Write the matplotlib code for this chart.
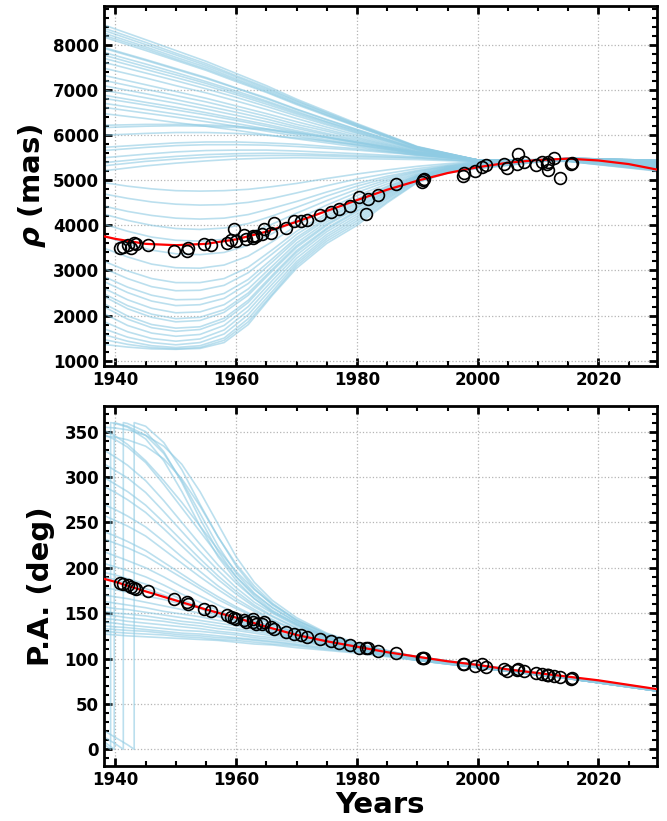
import numpy as np
import matplotlib.pyplot as plt
from matplotlib.ticker import MultipleLocator

plt.rcParams['font.family'] = ['DejaVu Sans']
plt.rcParams['font.weight'] = 'bold'
plt.rcParams['mathtext.fontset'] = 'custom'
plt.rcParams['mathtext.rm'] = 'DejaVu Sans:bold'
plt.rcParams['mathtext.it'] = 'DejaVu Sans:italic:bold'
plt.rcParams['mathtext.bf'] = 'DejaVu Sans:bold'

# observations
obs_years = [1940.8, 1941.3, 1942.0, 1942.5, 1943.0, 1943.4, 1945.4, 1949.7, 1951.9, 1952.0,
             1954.6, 1955.9, 1958.5, 1959.1, 1959.6, 1959.9, 1961.3, 1961.6, 1962.7, 1962.8,
             1963.2, 1964.3, 1964.6, 1965.7, 1966.3, 1968.2, 1969.6, 1970.7, 1971.8, 1973.8,
             1975.7, 1977.0, 1978.8, 1980.3, 1981.5, 1981.8, 1983.5, 1986.4, 1990.7, 1991.0,
             1991.1, 1997.6, 1997.8, 1999.5, 2000.7, 2001.4, 2004.3, 2004.8, 2006.5, 2006.6,
             2007.6, 2009.7, 2010.6, 2011.4, 2011.6, 2011.7, 2012.6, 2013.7, 2015.5, 2015.6]
obs_rho = [3500, 3520, 3560, 3500, 3600, 3580, 3565, 3430, 3430, 3505,
           3580, 3565, 3615, 3680, 3930, 3660, 3790, 3690, 3730, 3770,
           3770, 3800, 3910, 3840, 4050, 3950, 4100, 4100, 4120, 4230,
           4300, 4360, 4435, 4620, 4250, 4590, 4680, 4920, 4960, 5000,
           5030, 5090, 5170, 5200, 5290, 5340, 5360, 5265, 5360, 5590,
           5400, 5350, 5400, 5360, 5400, 5220, 5490, 5050, 5370, 5390]
obs_pa = [183.0, 181.6, 180.5, 178.6, 178.0, 176.9, 173.9, 165.9, 162.1, 160.4,
          154.9, 152.2, 147.5, 145.6, 145.0, 143.8, 142.7, 140.1, 140.1, 143.8,
          138.3, 137.6, 140.1, 134.6, 132.8, 129.1, 127.3, 125.5, 123.6, 121.1,
          119.2, 117.0, 114.5, 111.9, 111.9, 111.9, 108.2, 106.0, 100.5, 100.5,
          100.5, 94.3, 94.3, 91.7, 94.3, 90.6, 88.0, 86.2, 86.9, 88.8,
          86.2, 84.0, 82.5, 81.4, 81.4, 81.4, 80.7, 79.6, 77.8, 78.5]

# best fit
fit_years = [1938, 1940, 1945, 1950, 1955, 1960, 1965, 1970, 1975, 1980,
             1985, 1990, 1995, 2000, 2005, 2010, 2015, 2020, 2025, 2030]
fit_rho = [3760, 3700, 3590, 3560, 3590, 3690, 3860, 4080, 4320, 4560,
           4790, 4990, 5160, 5290, 5390, 5450, 5480, 5440, 5360, 5230]
fit_pa = [188, 184.5, 174, 164, 154, 145, 135, 126, 119, 113,
          107, 102, 97, 93, 88, 84, 80, 76, 71, 66]

# sampled orbits, separation (wide orbits, starting high)
rho_hi_years = [1938, 1945, 1950, 1955, 1960, 1965, 1970, 1975, 1980, 1990, 2000, 2015, 2030]
rho_hi_orbits = [
    [8450, 8120, 7880, 7640, 7370, 7100, 6800, 6530, 6260, 5750, 5450, 5420, 5200],
    [8380, 8060, 7820, 7590, 7320, 7060, 6770, 6500, 6240, 5740, 5450, 5420, 5210],
    [8330, 8010, 7780, 7550, 7290, 7030, 6750, 6490, 6230, 5740, 5450, 5430, 5230],
    [8270, 7960, 7730, 7510, 7250, 7000, 6720, 6460, 6210, 5730, 5450, 5420, 5220],
    [8220, 7920, 7690, 7470, 7220, 6970, 6700, 6450, 6200, 5730, 5450, 5430, 5240],
    [8180, 7880, 7660, 7440, 7190, 6950, 6680, 6430, 6190, 5720, 5450, 5430, 5250],
    [7950, 7680, 7480, 7280, 7050, 6830, 6580, 6350, 6130, 5700, 5450, 5430, 5260],
    [7930, 7660, 7460, 7260, 7040, 6810, 6570, 6340, 6120, 5700, 5450, 5440, 5270],
    [7840, 7580, 7390, 7190, 6980, 6760, 6530, 6300, 6100, 5690, 5450, 5430, 5260],
    [7780, 7520, 7340, 7150, 6940, 6730, 6500, 6290, 6080, 5680, 5450, 5440, 5280],
    [7710, 7460, 7280, 7100, 6900, 6690, 6470, 6260, 6060, 5680, 5450, 5440, 5290],
    [7620, 7380, 7210, 7030, 6840, 6640, 6430, 6230, 6040, 5670, 5450, 5430, 5270],
    [7490, 7270, 7100, 6940, 6760, 6570, 6370, 6180, 6000, 5650, 5450, 5440, 5300],
    [7330, 7120, 6970, 6820, 6650, 6480, 6300, 6130, 5960, 5640, 5450, 5440, 5310],
    [7220, 7020, 6880, 6740, 6580, 6420, 6240, 6090, 5930, 5630, 5450, 5450, 5320],
    [7100, 6920, 6790, 6650, 6510, 6360, 6190, 6040, 5900, 5620, 5450, 5440, 5300],
    [7000, 6830, 6710, 6580, 6440, 6300, 6150, 6010, 5870, 5610, 5450, 5450, 5330],
    [6890, 6730, 6620, 6500, 6370, 6240, 6100, 5970, 5840, 5590, 5450, 5450, 5340],
    [6820, 6670, 6560, 6450, 6330, 6200, 6070, 5940, 5820, 5590, 5450, 5450, 5320],
    [6710, 6570, 6470, 6370, 6260, 6140, 6020, 5900, 5790, 5580, 5450, 5460, 5350],
    [6620, 6490, 6400, 6300, 6200, 6090, 5980, 5870, 5770, 5570, 5450, 5450, 5340],
    [6480, 6370, 6280, 6200, 6110, 6010, 5920, 5830, 5740, 5550, 5450, 5460, 5360],
    [6220, 6240, 6240, 6230, 6200, 6140, 6060, 5960, 5850, 5620, 5450, 5450, 5350],
    [6170, 6200, 6210, 6200, 6170, 6120, 6040, 5950, 5840, 5620, 5450, 5460, 5370],
    [6000, 6040, 6060, 6060, 6040, 6000, 5940, 5870, 5790, 5600, 5440, 5450, 5360],
    [5730, 5790, 5830, 5850, 5850, 5830, 5800, 5750, 5700, 5570, 5440, 5460, 5380],
    [5660, 5730, 5770, 5790, 5790, 5780, 5750, 5710, 5670, 5560, 5440, 5460, 5370],
    [5500, 5580, 5630, 5660, 5670, 5670, 5650, 5620, 5590, 5520, 5430, 5470, 5390],
    [5390, 5480, 5530, 5570, 5590, 5600, 5590, 5570, 5550, 5500, 5420, 5470, 5400],
    [5320, 5420, 5470, 5510, 5540, 5550, 5550, 5540, 5520, 5490, 5420, 5480, 5410],
    [5210, 5320, 5380, 5430, 5470, 5490, 5500, 5490, 5480, 5460, 5410, 5480, 5420],
]

# sampled orbits, separation (orbits starting low)
rho_lo_years = [1938, 1942, 1946, 1950, 1954, 1958, 1962, 1966, 1970, 1975, 1980,
                1985, 1990, 1995, 2000, 2015, 2030]
rho_lo_orbits = [
    [4950, 4870, 4810, 4770, 4760, 4770, 4800, 4860, 4930, 5040, 5140, 5230, 5310, 5370, 5420, 5460, 5380],
    [4700, 4600, 4520, 4470, 4450, 4460, 4510, 4600, 4720, 4880, 5030, 5150, 5260, 5340, 5410, 5460, 5390],
    [4430, 4310, 4220, 4160, 4140, 4160, 4240, 4380, 4530, 4740, 4930, 5090, 5220, 5320, 5400, 5470, 5400],
    [4250, 4110, 4000, 3930, 3910, 3940, 4040, 4210, 4400, 4650, 4870, 5050, 5200, 5310, 5390, 5470, 5410],
    [4030, 3870, 3740, 3670, 3650, 3690, 3820, 4030, 4270, 4550, 4800, 5010, 5180, 5300, 5380, 5470, 5420],
    [3770, 3590, 3450, 3370, 3350, 3400, 3560, 3820, 4130, 4450, 4730, 4970, 5150, 5290, 5370, 5480, 5420],
    [3500, 3300, 3140, 3060, 3050, 3120, 3320, 3640, 4000, 4360, 4660, 4920, 5130, 5280, 5360, 5480, 5430],
    [3210, 2990, 2820, 2730, 2730, 2820, 3070, 3460, 3870, 4270, 4590, 4870, 5110, 5270, 5350, 5480, 5430],
    [3050, 2820, 2640, 2550, 2560, 2670, 2950, 3370, 3800, 4220, 4550, 4850, 5100, 5260, 5340, 5480, 5430],
    [2870, 2630, 2450, 2350, 2360, 2490, 2800, 3260, 3730, 4170, 4510, 4820, 5090, 5250, 5340, 5480, 5440],
    [2760, 2510, 2320, 2220, 2240, 2380, 2710, 3190, 3680, 4130, 4480, 4800, 5080, 5250, 5330, 5480, 5440],
    [2610, 2350, 2160, 2060, 2080, 2240, 2590, 3100, 3610, 4080, 4440, 4770, 5070, 5240, 5330, 5490, 5440],
    [2490, 2220, 2030, 1930, 1960, 2130, 2500, 3030, 3550, 4030, 4400, 4750, 5060, 5240, 5320, 5490, 5440],
    [2430, 2150, 1960, 1860, 1890, 2070, 2450, 2990, 3510, 4000, 4380, 4740, 5050, 5230, 5320, 5490, 5440],
    [2270, 1990, 1800, 1720, 1750, 1940, 2340, 2900, 3440, 3940, 4330, 4710, 5040, 5230, 5310, 5490, 5440],
    [2200, 1920, 1730, 1650, 1690, 1880, 2290, 2860, 3400, 3910, 4300, 4690, 5030, 5220, 5300, 5490, 5440],
    [2050, 1780, 1610, 1540, 1580, 1780, 2200, 2780, 3340, 3860, 4250, 4660, 5020, 5210, 5300, 5490, 5440],
    [1870, 1640, 1490, 1430, 1480, 1680, 2110, 2700, 3270, 3800, 4200, 4630, 5010, 5200, 5290, 5490, 5430],
    [1710, 1520, 1400, 1350, 1400, 1590, 2020, 2620, 3200, 3750, 4150, 4600, 5000, 5190, 5280, 5490, 5430],
    [1580, 1430, 1330, 1290, 1330, 1500, 1930, 2540, 3150, 3700, 4100, 4570, 4980, 5180, 5270, 5490, 5430],
    [1470, 1360, 1290, 1260, 1290, 1450, 1860, 2480, 3100, 3650, 4050, 4530, 4960, 5170, 5260, 5480, 5420],
    [1360, 1300, 1260, 1250, 1270, 1400, 1800, 2450, 3050, 3600, 4000, 4500, 4950, 5160, 5260, 5480, 5420],
]

# sampled orbits, position angle
pa_years = [1938, 1940, 1942, 1945, 1948, 1951, 1954, 1957, 1960, 1963, 1966,
            1970, 1975, 1980, 1990, 2000, 2015, 2030]
pa_orbits = [
    [127, 126, 125, 124, 123, 122, 121, 120, 118, 116, 115, 112, 109, 106, 98, 90, 78, 64],
    [130, 129, 128, 127, 126, 124, 123, 121, 120, 118, 116, 114, 110, 107, 99, 90, 78, 64],
    [133, 132, 131, 130, 128, 126, 125, 123, 122, 120, 118, 115, 111, 108, 99, 91, 78, 64],
    [136, 135, 134, 132, 130, 128, 127, 125, 123, 121, 119, 116, 112, 108, 99, 91, 79, 65],
    [140, 139, 137, 135, 133, 131, 130, 128, 126, 123, 121, 118, 114, 109, 100, 91, 79, 65],
    [144, 143, 141, 139, 137, 135, 133, 130, 128, 125, 123, 120, 115, 110, 100, 92, 79, 65],
    [148, 147, 145, 143, 141, 138, 136, 133, 131, 128, 125, 121, 116, 111, 101, 92, 79, 65],
    [152, 150, 149, 147, 144, 141, 139, 136, 133, 130, 127, 123, 117, 112, 101, 92, 79, 65],
    [157, 155, 154, 151, 148, 145, 142, 139, 136, 132, 129, 124, 118, 112, 101, 92, 79, 65],
    [163, 161, 159, 156, 152, 149, 146, 142, 139, 135, 131, 126, 119, 113, 102, 93, 79, 65],
    [170, 168, 166, 162, 158, 154, 150, 146, 142, 138, 133, 128, 120, 114, 102, 93, 80, 65],
    [178, 176, 173, 169, 165, 160, 156, 151, 146, 141, 136, 130, 122, 115, 102, 93, 80, 66],
    [352, 345, 336, 318, 296, 272, 246, 220, 196, 176, 160, 143, 127, 116, 101, 92, 79, 65],
    [347, 341, 333, 316, 292, 266, 240, 214, 190, 171, 156, 140, 125, 115, 101, 92, 79, 65],
    [330, 322, 313, 296, 274, 250, 226, 203, 183, 166, 152, 138, 124, 114, 100, 91, 78, 65],
    [315, 307, 299, 283, 262, 240, 218, 197, 178, 162, 150, 136, 123, 113, 100, 91, 78, 65],
    [300, 292, 284, 269, 250, 230, 210, 191, 174, 159, 147, 134, 122, 113, 100, 91, 78, 65],
    [290, 283, 275, 261, 243, 224, 205, 187, 171, 157, 146, 133, 121, 112, 99, 91, 78, 65],
    [270, 264, 257, 245, 229, 212, 196, 180, 166, 154, 143, 131, 120, 112, 99, 91, 78, 64],
    [258, 252, 246, 235, 220, 205, 190, 176, 163, 152, 142, 130, 119, 111, 99, 91, 78, 64],
    [240, 235, 229, 219, 206, 193, 180, 168, 157, 147, 138, 128, 118, 111, 99, 90, 78, 64],
    [232, 227, 222, 213, 201, 189, 177, 165, 155, 146, 137, 127, 118, 110, 99, 90, 78, 64],
    [218, 213, 208, 200, 190, 179, 169, 159, 150, 142, 134, 125, 117, 110, 98, 90, 78, 64],
    [205, 201, 197, 190, 181, 171, 162, 153, 145, 138, 131, 123, 115, 109, 98, 90, 78, 64],
    [195, 192, 188, 182, 174, 165, 157, 149, 142, 135, 129, 122, 115, 109, 98, 90, 78, 64],
    [190, 187, 183, 177, 170, 162, 155, 147, 140, 134, 128, 121, 114, 108, 98, 90, 78, 64],
    [355, 354, 352, 346, 334, 314, 284, 248, 212, 184, 164, 145, 128, 117, 101, 92, 79, 65],
    [345, 344, 341, 334, 320, 298, 268, 234, 202, 177, 159, 142, 127, 116, 101, 92, 79, 65],
]

# orbits that pass through 360 -> 0 deg
wrap_years = [
    [1938, 1940, 1942, 1943.1, 1943.1, 1945, 1948, 1951, 1954, 1957, 1960, 1963, 1966, 1970, 1975, 1980, 1990, 2000, 2015, 2030],
    [1938, 1940, 1941.3, 1941.3, 1942, 1945, 1948, 1951, 1954, 1957, 1960, 1963, 1966, 1970, 1975, 1980, 1990, 2000, 2015, 2030],
    [1938, 1939.2, 1939.2, 1940, 1942, 1945, 1948, 1951, 1954, 1957, 1960, 1963, 1966, 1970, 1975, 1980, 1990, 2000, 2015, 2030],
    [1938, 1939.8, 1939.8, 1942, 1945, 1948, 1951, 1954, 1957, 1960, 1963, 1966, 1970, 1975, 1980, 1990, 2000, 2015, 2030],
]
wrap_pa = [
    [21, 13, 5, 0, 360, 356, 338, 308, 270, 234, 204, 180, 161, 142, 126, 115, 101, 92, 79, 65],
    [14, 6, 0, 360, 359, 350, 328, 294, 254, 218, 190, 169, 153, 138, 124, 114, 101, 92, 79, 65],
    [6, 0, 360, 359, 355, 342, 318, 284, 246, 212, 186, 166, 151, 137, 123, 114, 101, 92, 79, 65],
    [9, 0, 360, 356, 346, 326, 296, 260, 224, 194, 172, 156, 140, 124, 114, 101, 92, 79, 65],
]

orbit_color = '#8fcbe3'

fig = plt.figure(figsize=(6.67, 8.21), dpi=100)
ax1 = fig.add_axes([0.1559, 0.5542, 0.8291, 0.4385])
ax2 = fig.add_axes([0.1559, 0.0670, 0.8291, 0.4385])

for orb in rho_hi_orbits:
    ax1.plot(rho_hi_years, orb, color=orbit_color, lw=1.2, alpha=0.6, zorder=2)
for orb in rho_lo_orbits:
    ax1.plot(rho_lo_years, orb, color=orbit_color, lw=1.2, alpha=0.6, zorder=2)
ax1.plot(fit_years, fit_rho, color='red', lw=1.6, zorder=3)
ax1.plot(obs_years, obs_rho, 'o', mfc='none', mec='black', ms=8.5, mew=1.2, zorder=4)

for orb in pa_orbits:
    ax2.plot(pa_years, orb, color=orbit_color, lw=1.2, alpha=0.6, zorder=2)
for yrs, orb in zip(wrap_years, wrap_pa):
    ax2.plot(yrs, orb, color=orbit_color, lw=1.2, alpha=0.6, zorder=2)
ax2.plot(fit_years, fit_pa, color='red', lw=1.6, zorder=3)
ax2.plot(obs_years, obs_pa, 'o', mfc='none', mec='black', ms=8.5, mew=1.2, zorder=4)

ax1.set_ylim(880, 8867)
ax2.set_ylim(-18.4, 378.3)
ax1.yaxis.set_major_locator(MultipleLocator(1000))
ax1.yaxis.set_minor_locator(MultipleLocator(200))
ax2.yaxis.set_major_locator(MultipleLocator(50))
ax2.yaxis.set_minor_locator(MultipleLocator(10))

for ax in (ax1, ax2):
    ax.set_xlim(1938.1, 2029.7)
    ax.xaxis.set_major_locator(MultipleLocator(20))
    ax.xaxis.set_minor_locator(MultipleLocator(5))
    ax.tick_params(which='both', direction='in', top=True, right=True, labelsize=12)
    ax.tick_params(which='major', length=6, width=2)
    ax.tick_params(which='minor', length=3.5, width=1.5)
    for sp in ax.spines.values():
        sp.set_linewidth(2)
    ax.grid(True, which='major', ls=':', color='#b5b5b5', lw=0.9, zorder=0)
    for lab in ax.get_xticklabels() + ax.get_yticklabels():
        lab.set_fontweight('bold')

ax1.set_ylabel(r'$\rho$ (mas)', fontsize=21, fontweight='bold')
ax1.yaxis.set_label_coords(-0.101, 0.5)
ax2.set_ylabel('P.A. (deg)', fontsize=21, fontweight='bold')
ax2.yaxis.set_label_coords(-0.089, 0.5)
ax2.set_xlabel('Years', fontsize=21, fontweight='bold')
ax2.xaxis.set_label_coords(0.5, -0.07)

fig.savefig('out.png', dpi=100)
